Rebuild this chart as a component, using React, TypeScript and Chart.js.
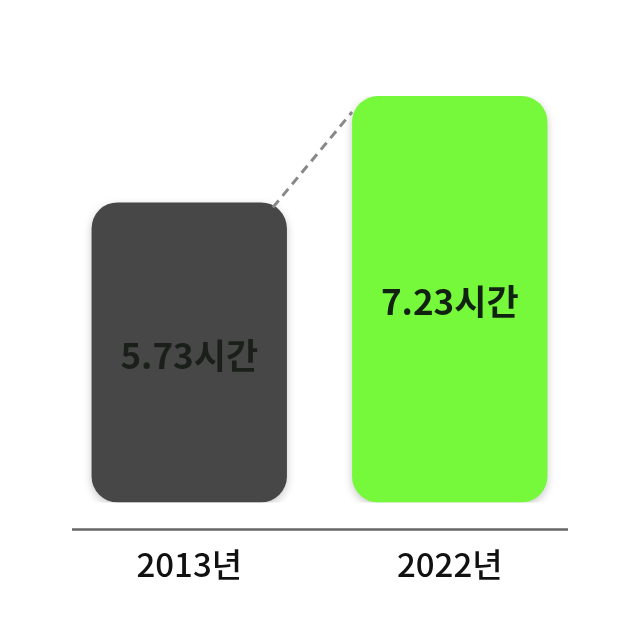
import { useEffect, useRef } from "react";
import { Chart, registerables } from "chart.js";

Chart.register(...registerables);

const years = ["2013년", "2022년"];
const hours = [5.73, 7.23];
const valueLabels = ["5.73시간", "7.23시간"];
const barColors = ["#474747", "#76f93b"];

const FONT = "'Noto Sans CJK KR', 'Noto Sans', sans-serif";

// shadow under the bars
const shadowPlugin = {
  id: "barShadow",
  beforeDatasetsDraw(chart: any) {
    const ctx = chart.ctx;
    ctx.save();
    ctx.shadowColor = "rgba(0,0,0,0.22)";
    ctx.shadowBlur = 8;
    ctx.shadowOffsetY = 3;
  },
  afterDatasetsDraw(chart: any) {
    chart.ctx.restore();
  },
};

const decorPlugin = {
  id: "decor",
  afterDraw(chart: any) {
    const ctx = chart.ctx;
    const area = chart.chartArea;
    const bars = chart.getDatasetMeta(0).data;

    // baseline below the bars
    ctx.save();
    ctx.strokeStyle = "#666666";
    ctx.lineWidth = 2.5;
    ctx.beginPath();
    ctx.moveTo(72, area.bottom + 27);
    ctx.lineTo(568, area.bottom + 27);
    ctx.stroke();

    // dashed connector between the bar tops
    const a = bars[0];
    const b = bars[1];
    ctx.strokeStyle = "#888888";
    ctx.lineWidth = 3;
    ctx.setLineDash([9, 6]);
    ctx.beginPath();
    ctx.moveTo(a.x + a.width / 2 - 14, a.y + 5);
    ctx.lineTo(b.x - b.width / 2, b.y + 16);
    ctx.stroke();
    ctx.setLineDash([]);

    // value labels inside bars
    ctx.font = `bold 35px ${FONT}`;
    ctx.textAlign = "center";
    ctx.textBaseline = "middle";
    bars.forEach((bar: any, i: number) => {
      ctx.fillStyle = i === 0 ? "#1a1f1a" : "#112211";
      ctx.fillText(valueLabels[i], bar.x, (bar.y + bar.base) / 2 + 3);
    });
    ctx.restore();
  },
};

export default function App() {
  const canvasRef = useRef<HTMLCanvasElement>(null);

  useEffect(() => {
    if (!canvasRef.current) return;
    const chart = new Chart(canvasRef.current, {
      type: "bar",
      data: {
        labels: years,
        datasets: [
          {
            data: hours,
            base: 1.5,
            backgroundColor: barColors,
            borderRadius: 26,
            borderSkipped: false,
            barPercentage: 0.75,
            categoryPercentage: 1,
          },
        ],
      },
      options: {
        responsive: false,
        animation: false,
        layout: { padding: { left: 59, right: 60, top: 96, bottom: 14 } },
        plugins: { legend: { display: false }, tooltip: { enabled: false } },
        scales: {
          x: {
            grid: { display: false, drawTicks: false },
            border: { display: false },
            ticks: {
              padding: 42,
              color: "#111111",
              font: { family: FONT, size: 33, weight: 500 },
            },
          },
          y: {
            display: false,
            min: 1.5,
            max: 7.23,
          },
        },
      },
      plugins: [shadowPlugin, decorPlugin],
    });
    return () => chart.destroy();
  }, []);

  return (
    <div style={{ position: "absolute", left: 0, top: 0, width: 640, height: 640, background: "#ffffff" }}>
      <canvas ref={canvasRef} width={640} height={640} />
    </div>
  );
}
